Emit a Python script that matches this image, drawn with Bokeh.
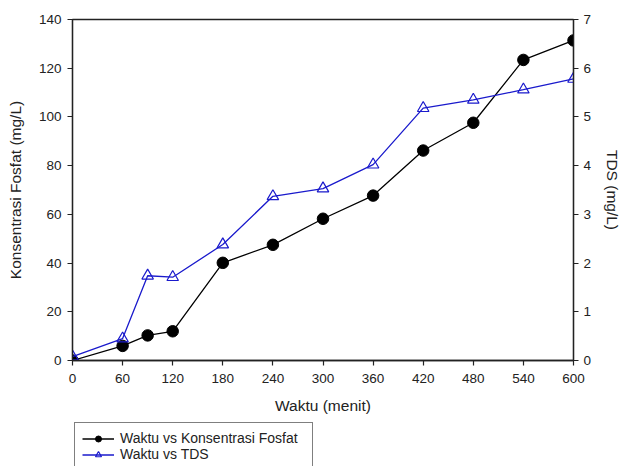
from bokeh.plotting import figure
from bokeh.layouts import column
from bokeh.models import Range1d, LinearAxis, Legend, LegendItem, FixedTicker
from bokeh.embed import file_html
from bokeh.resources import INLINE

waktu = [0, 60, 90, 120, 180, 240, 300, 360, 420, 480, 540, 600]
fosfat = [0.0, 6.0, 10.3, 12.0, 40.1, 47.5, 58.2, 67.7, 86.2, 97.6, 123.4, 131.4]
tds = [0.08, 0.45, 1.74, 1.71, 2.38, 3.37, 3.53, 4.02, 5.18, 5.35, 5.56, 5.78]
x_ticks = [0, 60, 120, 180, 240, 300, 360, 420, 480, 540, 600]
y_ticks = [0, 20, 40, 60, 80, 100, 120, 140]
tds_ticks = [0, 1, 2, 3, 4, 5, 6, 7]

FONT = "Liberation Sans"
AX = "#222222"
BLUE = "#1a1acc"

p = figure(width=624, height=420, output_backend="svg", toolbar_location=None,
           x_range=Range1d(0, 600), y_range=Range1d(0, 140),
           min_border_left=72, min_border_right=50, min_border_top=19, min_border_bottom=60)
p.extra_y_ranges = {"tds": Range1d(0, 7)}
p.grid.visible = False
p.outline_line_color = AX
p.outline_line_width = 1.3

p.xaxis.ticker = FixedTicker(ticks=x_ticks)
p.yaxis.ticker = FixedTicker(ticks=y_ticks)
p.xaxis.axis_label = "Waktu (menit)"
p.yaxis.axis_label = "Konsentrasi Fosfat (mg/L)"

ax2 = LinearAxis(y_range_name="tds", ticker=FixedTicker(ticks=tds_ticks), axis_label="TDS (mg/L)")
p.add_layout(ax2, "right")

for ax in [p.xaxis[0], p.yaxis[0], ax2]:
    ax.axis_line_color = AX
    ax.axis_line_width = 1.3
    ax.major_tick_line_color = AX
    ax.major_tick_line_width = 1.2
    ax.major_tick_out = 5
    ax.major_tick_in = 0
    ax.minor_tick_line_color = None
    ax.major_label_text_font = FONT
    ax.major_label_text_font_size = "13.5px"
    ax.major_label_text_color = "#222222"
    ax.axis_label_text_font = FONT
    ax.axis_label_text_font_size = "15.5px"
    ax.axis_label_text_font_style = "normal"
    ax.axis_label_text_color = "#222222"

p.xaxis[0].major_label_standoff = 8
p.xaxis[0].axis_label_standoff = 11
p.yaxis[0].major_label_standoff = 6
p.yaxis[0].axis_label_standoff = 12
ax2.major_label_standoff = 5
ax2.axis_label_standoff = 10

p.line(waktu, fosfat, line_color="black", line_width=1.3)
p.scatter(waktu, fosfat, marker="circle", size=11.5, fill_color="black", line_color="black")
p.line(waktu, tds, line_color=BLUE, line_width=1.3, y_range_name="tds")
p.scatter(waktu, tds, marker="triangle", size=11.5, fill_color="white", fill_alpha=0,
          line_color=BLUE, line_width=1.2, y_range_name="tds")

# legend strip below the chart
q = figure(width=624, height=46, output_backend="svg", toolbar_location=None,
           x_range=Range1d(0, 600), y_range=Range1d(0, 140),
           x_axis_location=None, y_axis_location=None,
           min_border_left=72, min_border_right=50, min_border_top=0, min_border_bottom=0)
q.grid.visible = False
q.outline_line_color = None
l1 = q.line(waktu, fosfat, line_color="black", line_width=1.3, visible=False)
m1 = q.scatter(waktu, fosfat, marker="circle", size=11, fill_color="black", line_color="black", visible=False)
l2 = q.line(waktu, tds, line_color=BLUE, line_width=1.3, visible=False)
m2 = q.scatter(waktu, tds, marker="triangle", size=11, fill_color="white", fill_alpha=0,
               line_color=BLUE, line_width=1.2, visible=False)

legend = Legend(items=[LegendItem(label="Waktu vs Konsentrasi Fosfat", renderers=[l1, m1]),
                       LegendItem(label="Waktu vs TDS", renderers=[l2, m2])],
                location="top_left", orientation="vertical")
legend.border_line_color = "black"
legend.border_line_width = 1.3
legend.background_fill_alpha = 1
legend.label_text_font = FONT
legend.label_text_font_size = "14px"
legend.label_text_color = "#222222"
legend.glyph_width = 32
legend.glyph_height = 15
legend.label_height = 15
legend.label_width = 185
legend.spacing = 0
legend.padding = 7
legend.margin = 2
legend.label_standoff = 6
q.add_layout(legend, "center")

layout = column(p, q, spacing=0)
open("out.html", "w").write(file_html(layout, INLINE))
